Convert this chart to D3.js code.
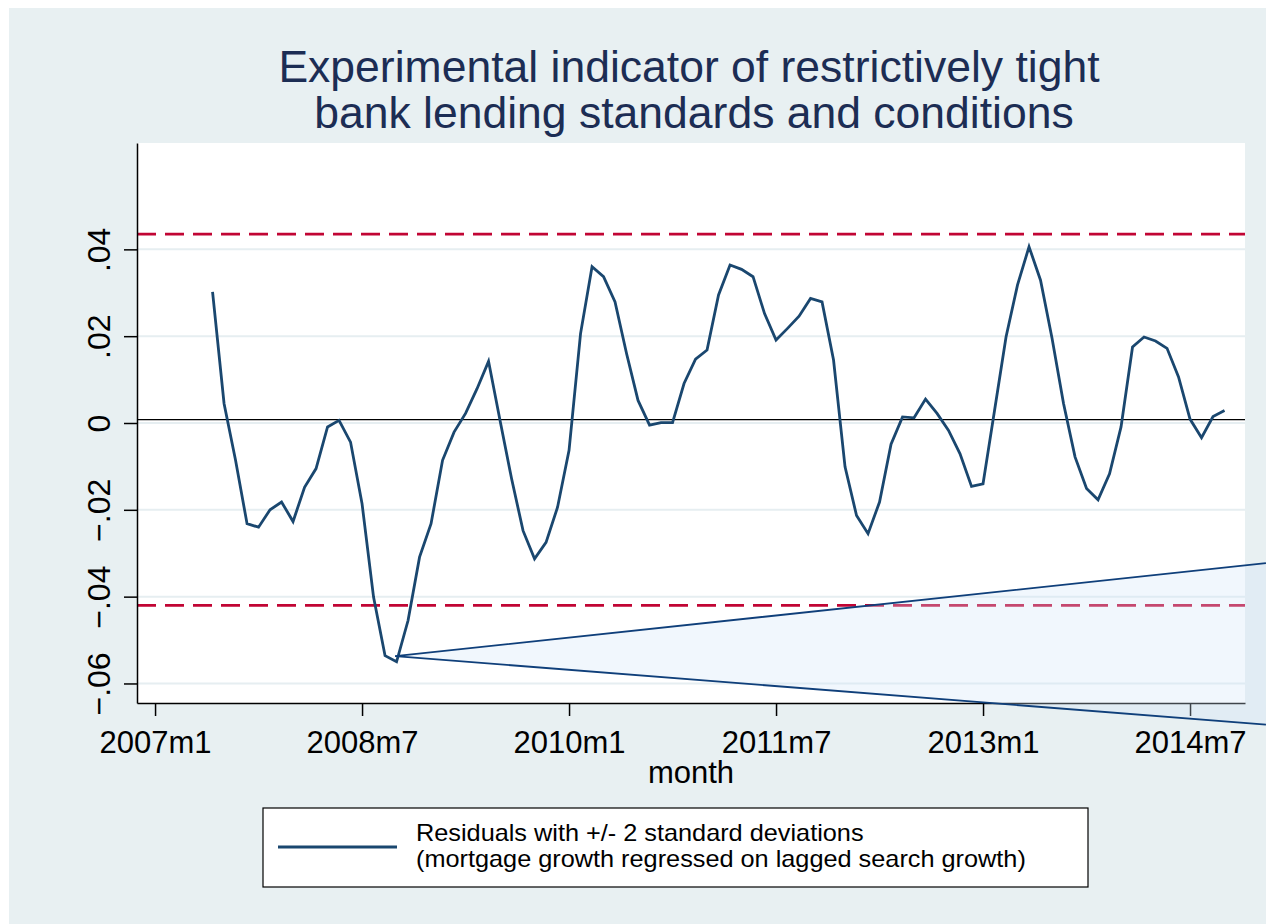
<!DOCTYPE html>
<html>
<head>
<meta charset="utf-8">
<script src="https://cdn.jsdelivr.net/npm/d3@7"></script>
<style>
    body { margin: 0; background: #ffffff; }
    svg { display: block; }
    text { font-family: "Liberation Sans", Arial, Helvetica, sans-serif; }
</style>
</head>
<body>
<div id="svganchor"></div>
<script>
let width = 1266;
let height = 924;
let margin = ({top: 143, right: 21, bottom: 221, left: 137});

// Months are counted from 2007m1 (= 0); first residual is 2007m6
let firstMonth = 5;
let residuals = [
    0.0302, 0.0045, -0.0086, -0.0232, -0.0240, -0.0200, -0.0182, -0.0227, -0.0148, -0.0105,
    -0.0009, 0.0006, -0.0044, -0.0186, -0.0401, -0.0536, -0.0550, -0.0455, -0.0309, -0.0232,
    -0.0086, -0.0021, 0.0022, 0.0079, 0.0142, 0.0006, -0.0128, -0.0248, -0.0313, -0.0275,
    -0.0194, -0.0063, 0.0206, 0.0360, 0.0337, 0.0279, 0.0160, 0.0052, -0.0005, 0.0001,
    0.0001, 0.0091, 0.0147, 0.0168, 0.0295, 0.0364, 0.0354, 0.0337, 0.0252, 0.0191,
    0.0218, 0.0246, 0.0287, 0.0279, 0.0145, -0.0101, -0.0213, -0.0255, -0.0182, -0.0049,
    0.0014, 0.0012, 0.0055, 0.0022, -0.0017, -0.0071, -0.0146, -0.0140, 0.0029, 0.0198,
    0.0318, 0.0406, 0.0329, 0.0195, 0.0045, -0.0078, -0.0151, -0.0177, -0.0117, -0.0009,
    0.0175, 0.0198, 0.0189, 0.0172, 0.0106, 0.0009, -0.0034, 0.0015, 0.0029
];

// +/- 2 standard deviation bands and the mean line
let bandValues = [0.0435, -0.0420];
let meanValue = 0.0008;

let yTicks = [-0.06, -0.04, -0.02, 0, 0.02, 0.04];
let xTicks = [0, 18, 36, 54, 72, 90];
let xTickLabels = ["2007m1", "2008m7", "2010m1", "2011m7", "2013m1", "2014m7"];

let titleLines = ["Experimental indicator of restrictively tight", "bank lending standards and conditions"];
let xTitle = "month";
let legendLines = ["Residuals with +/- 2 standard deviations", "(mortgage growth regressed on lagged search growth)"];

// Callout wedge (month, value) that sits over the chart
let calloutApex = [20.87, -0.0537];
let calloutTop = [96.6, -0.0323];
let calloutBottom = [96.6, -0.0695];

let navy = "#1a476f";
let cranberry = "#c10534";
let bgColor = "#e8f0f2";

let data = residuals.map((v, i) => ({month: firstMonth + i, value: v}));

let svg = d3.select("#svganchor")
    .append("svg")
    .attr("width", width)
    .attr("height", height);

// Graph region background
svg.append("rect")
    .attr("x", 9)
    .attr("y", 8)
    .attr("width", width - 9)
    .attr("height", height - 8)
    .attr("fill", bgColor);

// Plot region
svg.append("rect")
    .attr("x", margin.left)
    .attr("y", margin.top)
    .attr("width", width - margin.left - margin.right)
    .attr("height", height - margin.top - margin.bottom)
    .attr("fill", "#ffffff");

let xScale = d3.scaleLinear()
    .domain([-1.57, 94.78])
    .range([margin.left, width - margin.right]);

let yScale = d3.scaleLinear()
    .domain([-0.0645, 0.0645])
    .range([height - margin.bottom, margin.top]);

// Horizontal grid lines
svg.append("g")
    .selectAll("line")
    .data(yTicks)
    .join("line")
    .attr("x1", margin.left)
    .attr("x2", width - margin.right)
    .attr("y1", d => yScale(d))
    .attr("y2", d => yScale(d))
    .attr("stroke", "#e6eef1")
    .attr("stroke-width", 2);

// Mean line
svg.append("line")
    .attr("x1", margin.left)
    .attr("x2", width - margin.right)
    .attr("y1", yScale(meanValue))
    .attr("y2", yScale(meanValue))
    .attr("stroke", "#000000")
    .attr("stroke-width", 1.3);

// +/- 2 sd dashed lines
svg.append("g")
    .selectAll("line")
    .data(bandValues)
    .join("line")
    .attr("x1", margin.left)
    .attr("x2", width - margin.right)
    .attr("y1", d => yScale(d))
    .attr("y2", d => yScale(d))
    .attr("stroke", cranberry)
    .attr("stroke-width", 2.6)
    .attr("stroke-dasharray", "19,9");

// Residual series
let line = d3.line()
    .x(d => xScale(d.month))
    .y(d => yScale(d.value));

svg.append("path")
    .datum(data)
    .attr("d", line)
    .attr("fill", "none")
    .attr("stroke", navy)
    .attr("stroke-width", 2.8)
    .attr("stroke-linejoin", "miter");

// Axes
let stataFormat = function(v) {
    if (v === 0) return "0";
    let s = d3.format(".2f")(v);
    return s.replace("0.", ".");
};

let yAxis = d3.axisLeft(yScale)
    .tickValues(yTicks)
    .tickFormat(stataFormat)
    .tickSize(13)
    .tickSizeOuter(0);

let gy = svg.append("g")
    .attr("transform", "translate(" + margin.left + ",0)")
    .call(yAxis);

gy.selectAll("text")
    .attr("x", null)
    .attr("dy", null)
    .attr("text-anchor", "middle")
    .attr("transform", "translate(-27,0) rotate(-90)")
    .attr("fill", "#000")
    .style("font-size", "32px");

let xAxis = d3.axisBottom(xScale)
    .tickValues(xTicks)
    .tickFormat((d, i) => xTickLabels[i])
    .tickSize(13)
    .tickSizeOuter(0);

let gx = svg.append("g")
    .attr("transform", "translate(0," + (height - margin.bottom) + ")")
    .call(xAxis);

gx.selectAll("text")
    .attr("y", 50)
    .attr("dy", null)
    .attr("fill", "#000")
    .style("font-size", "31px");

svg.selectAll(".domain, .tick line")
    .attr("stroke", "#000")
    .attr("stroke-width", 1.5);

// Axis title
svg.append("text")
    .attr("x", (margin.left + width - margin.right) / 2)
    .attr("y", 783)
    .attr("text-anchor", "middle")
    .style("font-size", "31px")
    .attr("fill", "#000")
    .text(xTitle);

// Title
svg.append("g")
    .selectAll("text")
    .data(titleLines)
    .join("text")
    .attr("x", (d, i) => i === 0 ? 689 : 694)
    .attr("y", (d, i) => 82 + i * 45.5)
    .attr("text-anchor", "middle")
    .style("font-size", "44.5px")
    .attr("fill", "#1c2d54")
    .text(d => d);

// Legend
let legend = svg.append("g");

legend.append("rect")
    .attr("x", 263)
    .attr("y", 808)
    .attr("width", 825)
    .attr("height", 79)
    .attr("fill", "#ffffff")
    .attr("stroke", "#000")
    .attr("stroke-width", 1.2);

legend.append("line")
    .attr("x1", 278)
    .attr("x2", 397)
    .attr("y1", 847)
    .attr("y2", 847)
    .attr("stroke", navy)
    .attr("stroke-width", 3);

// Stata's legend font is a little wider than Liberation Sans, so stretch it horizontally
legend.selectAll(".legend-label")
    .data(legendLines)
    .join("text")
    .attr("class", "legend-label")
    .attr("transform", (d, i) => "translate(416," + (841 + i * 26) + ") scale(1.1,1)")
    .style("font-size", "23px")
    .attr("fill", "#000")
    .text(d => d);

// Callout wedge over the chart
let wedge = [calloutTop, calloutApex, calloutBottom];

svg.append("path")
    .attr("d", d3.line().x(d => xScale(d[0])).y(d => yScale(d[1]))(wedge) + "Z")
    .attr("fill", "#cfe3fa")
    .attr("fill-opacity", 0.3);

svg.append("path")
    .attr("d", d3.line().x(d => xScale(d[0])).y(d => yScale(d[1]))(wedge))
    .attr("fill", "none")
    .attr("stroke", "#0f3f7a")
    .attr("stroke-width", 1.8);
</script>
</body>
</html>
